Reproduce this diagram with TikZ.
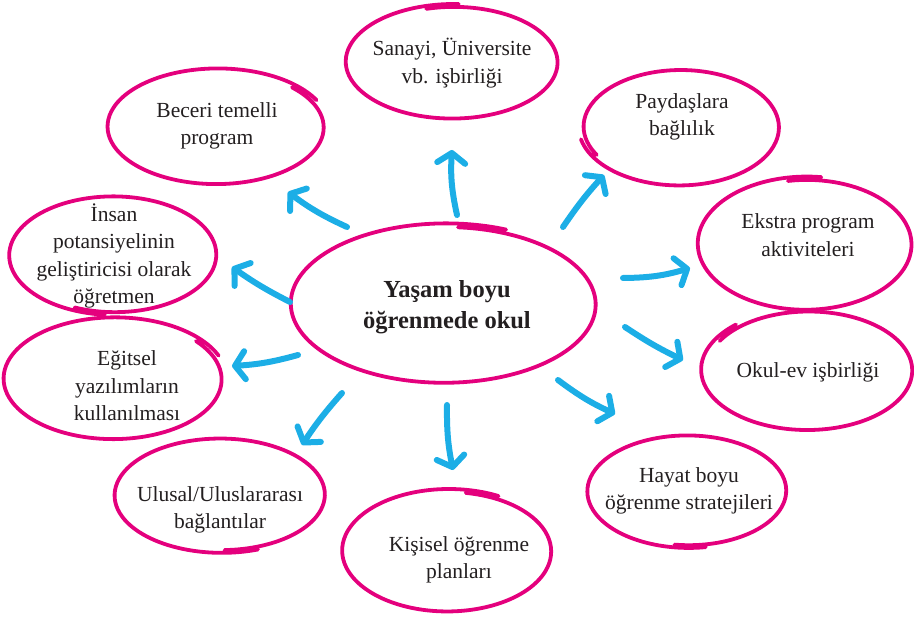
\documentclass[tikz,border=0pt]{standalone}
\usepackage{fontspec}
\setmainfont{Liberation Serif}
\usetikzlibrary{arrows.meta}
\definecolor{pinkline}{HTML}{E4007D}
\definecolor{cyanarrow}{HTML}{1CAEE6}
\definecolor{txt}{HTML}{231F20}
% hand drawn loop: cx, cy, rx, ry, start angle, radius change
\newcommand{\handloop}[6]{%
  \pgfmathsetmacro{\hlend}{#5+378}%
  \draw[loopline] plot[smooth, domain=#5:\hlend, samples=100, variable=\t]
    ({#1+#3*(1+#6*(\t-#5)/378)*cos(\t)}, {#2+#4*(1+#6*(\t-#5)/378)*sin(\t)});
}
\begin{document}
\begin{tikzpicture}[x=1pt, y=-1pt,
  loopline/.style={draw=pinkline, line width=3.8pt, line cap=round},
  lbl/.style={text=txt, align=center, inner sep=0pt, font=\fontsize{21.5}{27.5}\selectfont},
  mainlbl/.style={text=txt, align=center, inner sep=0pt, font=\bfseries\fontsize{24.5}{31}\selectfont},
  arr/.style={draw=cyanarrow, line width=6pt, line cap=round,
    -{Straight Barb[length=10pt, width=28pt, round]}}]
\useasboundingbox (0,0) rectangle (914,617);

% loops
\handloop{445}{304}{149}{77}{-85}{0.05}
\handloop{453}{62}{103}{55}{-105}{0.055}
\handloop{680}{127}{96}{56}{150}{0.055}
\handloop{217}{127}{106}{56}{-45}{0.055}
\handloop{114}{255}{106}{60}{95}{-0.05}
\handloop{806}{244}{104}{64}{-100}{0.055}
\handloop{808}{370}{102}{58}{-150}{0.055}
\handloop{114}{379}{107}{59}{-40}{0.055}
\handloop{221}{495}{108}{58}{70}{-0.05}
\handloop{448}{551}{102}{59}{-80}{0.055}
\handloop{688}{491}{102}{57}{80}{-0.05}

% texts
\node[mainlbl] (center) at (447,307) {Yaşam boyu\\öğrenmede okul};
\node[lbl] (sanayi) at (452,63) {Sanayi, Üniversite\\vb. işbirliği};
\node[lbl] (paydas) at (682,117) {Paydaşlara\\bağlılık};
\node[lbl] (beceri) at (217,126) {Beceri temelli\\program};
\node[lbl] (insan) at (114,256) {İnsan\\potansiyelinin\\geliştiricisi olarak\\öğretmen};
\node[lbl] (ekstra) at (808,235) {Ekstra program\\aktiviteleri};
\node[lbl] (okulev) at (808,372) {Okul-ev işbirliği};
\node[lbl] (egitsel) at (127,386) {Eğitsel\\yazılımların\\kullanılması};
\node[lbl] (ulusal) at (220,510) {Ulusal/Uluslararası\\bağlantılar};
\node[lbl] (kisisel) at (459,560) {Kişisel öğrenme\\planları};
\node[lbl] (hayat) at (689,491) {Hayat boyu\\öğrenme stratejileri};

% arrow ends
\coordinate (t1) at (457,215); \coordinate (h1) at (452,150);
\coordinate (t2) at (563,227); \coordinate (h2) at (604,175);
\coordinate (t3) at (347,227); \coordinate (h3) at (288,192);
\coordinate (t4) at (623,278); \coordinate (h4) at (690,268);
\coordinate (t5) at (290,302); \coordinate (h5) at (232,267);
\coordinate (t6) at (625,327); \coordinate (h6) at (683,360);
\coordinate (t7) at (298,355); \coordinate (h7) at (232,366);
\coordinate (t8) at (342,393); \coordinate (h8) at (302,445);
\coordinate (t9) at (447,405); \coordinate (h9) at (453,470);
\coordinate (t10) at (558,380); \coordinate (h10) at (615,414);

\draw[arr] (t1) to[bend left=8] (h1);
\draw[arr] (t2) to[bend left=4] (h2);
\draw[arr] (t3) to[bend left=6] (h3);
\draw[arr] (t4) to[bend right=8] (h4);
\draw[arr] (t5) to[bend left=4] (h5);
\draw[arr] (t6) to[bend right=4] (h6);
\draw[arr] (t7) to[bend left=6] (h7);
\draw[arr] (t8) to[bend right=4] (h8);
\draw[arr] (t9) to[bend right=6] (h9);
\draw[arr] (t10) to[bend right=6] (h10);
\end{tikzpicture}
\end{document}
